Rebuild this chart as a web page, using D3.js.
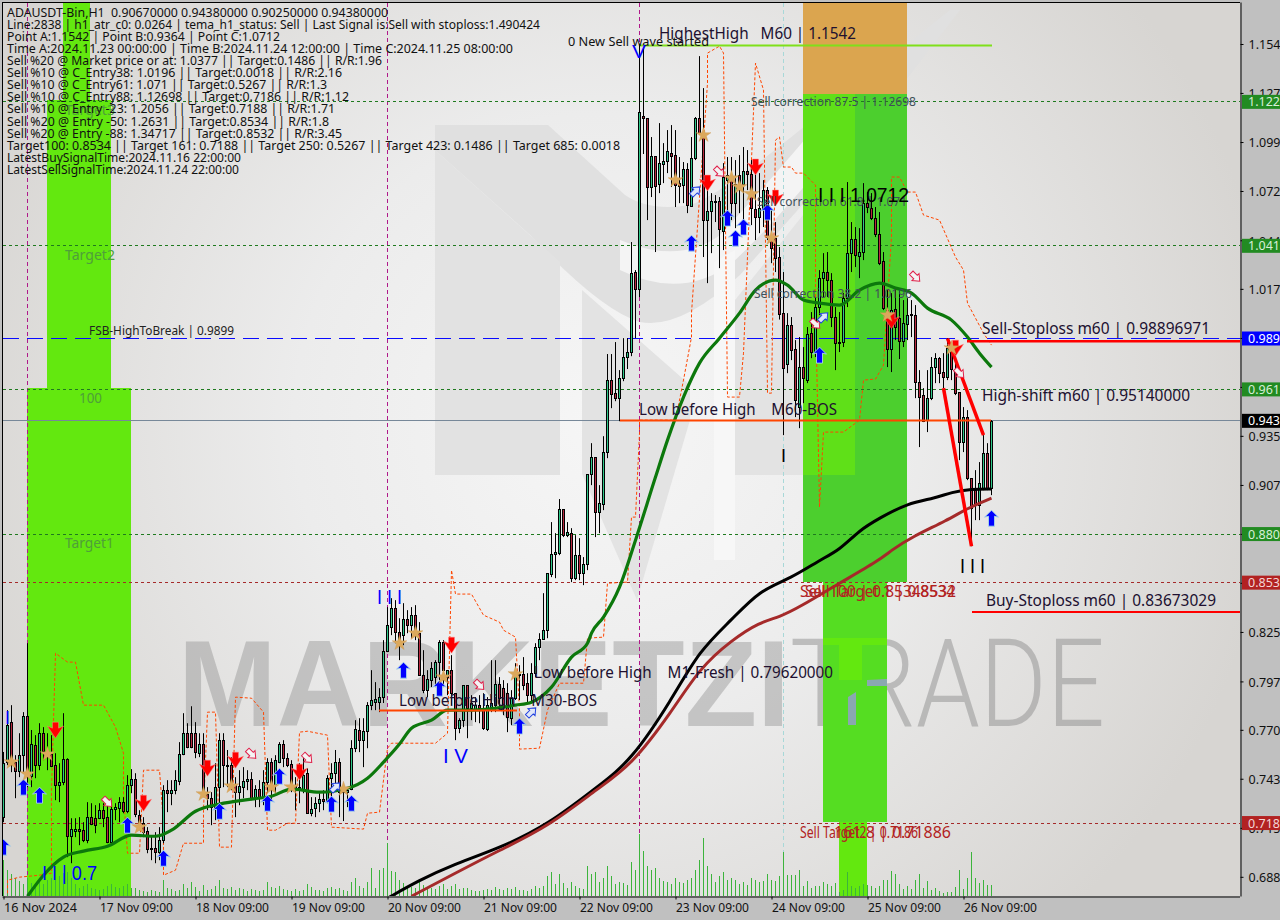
<!DOCTYPE html>
<html><head><meta charset="utf-8">
<style>html,body{margin:0;padding:0;background:#c0c0c0;overflow:hidden}svg{display:block}text{font-family:"Noto Sans","Open Sans",sans-serif;white-space:pre}</style>
<script src="https://cdn.jsdelivr.net/npm/d3@7"></script></head><body><svg id="c" width="1280" height="920"></svg>
<script>
const opens=[.7220,.7527,.7751,.7527,.7476,.7566,.7785,.7448,.7622,.7510,
.7689,.7588,.7572,.7510,.7398,.7415,.7544,.7112,.7140,.7152,
.7146,.7090,.7219,.7213,.7213,.7258,.7219,.7079,.7264,.7270,
.7303,.7252,.7398,.7432,.7230,.7185,.7140,.7045,.7045,.7023,
.7090,.7370,.7353,.7370,.7420,.7572,.7689,.7689,.7689,.7577,
.7628,.7348,.7325,.7275,.7387,.7651,.7510,.7510,.7398,.7359,
.7387,.7420,.7432,.7325,.7376,.7325,.7415,.7527,.7398,.7527,
.7628,.7549,.7516,.7392,.7387,.7370,.7465,.7241,.7270,.7297,
.7320,.7314,.7437,.7465,.7527,.7370,.7359,.7376,.7605,.7707,
.7650,.7701,.7846,.7863,.7863,.7891,.8148,.8283,.8389,.8255,
.8238,.8328,.8294,.8350,.8249,.8014,.7930,.7986,.8003,.8087,
.8199,.8003,.8042,.7913,.7717,.7762,.7958,.7829,.7819,.7846,
.7818,.7712,.7835,.7846,.7964,.7941,.7913,.7773,.7885,.8014,
.8020,.7969,.7902,.8025,.8171,.8216,.8266,.8580,.8692,.8697,
.8944,.8798,.8809,.8557,.8686,.8585,.8636,.9140,.9235,.8927,
.8972,.9263,.9666,.9593,.9565,.9677,.9795,.9823,1.0271,1.0176,
1.1144,1.1133,1.0747,1.0920,1.0764,1.0876,1.0892,1.0937,1.0926,1.0769,
1.0758,1.0848,1.0640,1.0909,1.1133,1.1049,1.0562,1.0612,1.0663,1.0668,
1.0500,1.0786,1.0814,1.0657,1.0814,1.0764,1.0836,1.0820,1.0624,1.0579,
1.0629,1.0730,1.0473,1.0461,1.0355,1.0041,.9756,.9974,.9840,.9515,
.9739,.9666,.9929,.9823,1.0075,1.0237,1.0271,1.0226,1.0019,.9879,
.9879,1.0125,1.0377,1.0456,1.0360,1.0383,1.0657,1.0629,1.0573,1.0484,
1.0332,1.0058,.9840,1.0064,1.0013,.9884,.9980,1.0030,1.0030,.9655,
.9582,.9442,.9565,.9739,.9789,.9711,.9683,.9845,.9722,.9599,
.9319,.9459,.9117,.9050,.8966,.9061,.9257,.9061];
const highs=[.7584,.7818,.7846,.7566,.7689,.7807,.8193,.7707,.7678,.7745,
.7723,.7689,.7678,.7577,.7521,.7801,.7549,.7213,.7213,.7219,
.7191,.7303,.7297,.7286,.7297,.7297,.7286,.7314,.7297,.7331,
.7331,.7454,.7488,.7465,.7258,.7219,.7163,.7118,.7135,.7163,
.7398,.7426,.7426,.7482,.7639,.7801,.7745,.7840,.7751,.7689,
.7689,.7387,.7359,.7521,.7689,.7689,.7595,.7555,.7443,.7482,
.7499,.7482,.7471,.7398,.7426,.7482,.7549,.7549,.7566,.7639,
.7650,.7577,.7538,.7443,.7521,.7549,.7493,.7331,.7331,.7353,
.7370,.7454,.7521,.7595,.7549,.7409,.7387,.7650,.7762,.7773,
.7773,.7863,.8042,.7975,.7941,.8210,.8395,.8445,.8434,.8333,
.8417,.8378,.8395,.8406,.8311,.8154,.8042,.8087,.8098,.8210,
.8210,.8042,.8126,.7913,.7773,.7958,.7958,.7902,.7891,.7902,
.7913,.7891,.8098,.8098,.8003,.7986,.7969,.7930,.8081,.8070,
.8115,.8025,.8081,.8193,.8249,.8473,.8585,.8871,.8809,.9000,
.8944,.8871,.8837,.8798,.8781,.8675,.9140,.9313,.9235,.9078,
.9352,.9812,.9812,.9879,.9722,.9901,.9901,1.0439,1.0282,1.1548,
1.1520,1.1133,1.1027,1.0920,1.1105,1.0993,1.1066,1.1094,1.1066,1.0915,
1.0887,1.0881,1.1027,1.1139,1.1480,1.1301,1.0730,1.0713,1.0702,1.0691,
1.0881,1.0915,1.0915,1.0898,1.0926,1.0971,1.0954,1.0898,1.0881,1.0825,
1.0786,1.0747,1.0618,1.0551,1.0411,1.0271,1.0041,1.0019,.9890,.9907,
.9851,.9963,1.0047,1.0131,1.0282,1.0377,1.0383,1.0265,1.0075,1.0047,
1.0153,1.0775,1.0551,1.0523,1.0517,1.0769,1.0719,1.0713,1.0635,1.0607,
1.0383,1.0170,1.0153,1.0187,1.0170,1.0114,1.0125,1.0114,1.0086,.9722,
.9621,.9722,.9795,.9817,.9795,.9817,.9901,.9862,.9778,.9599,
.9515,.9498,.9117,.9162,.9207,.9358,.9313,.9442];
const lows=[.7191,.7510,.7471,.7325,.7443,.7465,.7387,.7387,.7437,.7482,
.7538,.7482,.7499,.7314,.7303,.7398,.6995,.6961,.7107,.7062,
.7079,.7073,.7174,.7129,.7208,.7163,.7073,.7073,.7202,.7191,
.7241,.7241,.7353,.7219,.7146,.7107,.7017,.6978,.6961,.6978,
.7073,.7247,.7286,.7347,.7398,.7566,.7605,.7605,.7549,.7555,
.7353,.7258,.7174,.7202,.7258,.7387,.7387,.7370,.7219,.7286,
.7325,.7370,.7314,.7275,.7275,.7286,.7353,.7314,.7353,.7521,
.7499,.7499,.7359,.7258,.7297,.7353,.7241,.7224,.7219,.7247,
.7258,.7297,.7303,.7370,.7219,.7197,.7275,.7370,.7583,.7583,
.7499,.7605,.7818,.7818,.7807,.7858,.8143,.8238,.8193,.8098,
.8182,.8249,.8221,.8210,.8014,.7913,.7891,.7947,.7947,.7986,
.7947,.7902,.7846,.7650,.7689,.7723,.7661,.7762,.7751,.7745,
.7707,.7701,.7807,.7807,.7835,.7790,.7695,.7734,.7875,.7875,
.7930,.7863,.7863,.8003,.8098,.8216,.8221,.8563,.8557,.8686,
.8787,.8787,.8535,.8546,.8546,.8518,.8602,.9078,.8787,.8809,
.8938,.9229,.9509,.9548,.9436,.9660,.9728,.9800,.9901,1.0131,
1.0932,1.0562,1.0691,1.0383,1.0713,1.0769,1.0825,1.0747,1.0635,1.0657,
1.0657,1.0601,1.0640,1.0898,1.1038,1.0355,1.0209,1.0377,1.0551,1.0293,
1.0394,1.0607,1.0562,1.0517,1.0601,1.0562,1.0730,1.0534,1.0450,1.0489,
1.0523,1.0450,1.0321,1.0271,1.0005,.9358,.9705,.9778,.9459,.9397,
.9537,.9649,.9789,.9795,1.0030,1.0131,1.0131,.9963,.9722,.9823,
.9851,1.0075,1.0271,1.0299,1.0237,1.0338,1.0601,1.0562,1.0467,1.0310,
1.0058,.9739,.9711,.9890,.9784,.9851,.9890,.9907,.9565,.9291,
.9431,.9375,.9554,.9649,.9649,.9621,.9666,.9666,.9582,.9218,
.9263,.9106,.8736,.8882,.8882,.9050,.9050,.9022];
const closes=[.7522,.7734,.7527,.7476,.7566,.7785,.7471,.7628,.7510,.7689,
.7588,.7566,.7505,.7398,.7415,.7544,.7112,.7152,.7152,.7140,
.7090,.7219,.7180,.7174,.7258,.7213,.7079,.7264,.7275,.7303,
.7252,.7398,.7432,.7236,.7174,.7135,.7039,.7039,.7023,.7090,
.7370,.7353,.7370,.7426,.7572,.7689,.7611,.7611,.7583,.7628,
.7359,.7325,.7275,.7387,.7651,.7510,.7505,.7409,.7359,.7392,
.7420,.7432,.7325,.7376,.7325,.7415,.7527,.7387,.7538,.7628,
.7549,.7510,.7392,.7381,.7381,.7454,.7241,.7264,.7297,.7320,
.7309,.7437,.7465,.7527,.7359,.7359,.7370,.7605,.7712,.7650,
.7701,.7846,.7875,.7880,.7891,.8148,.8294,.8389,.8255,.8199,
.8328,.8294,.8350,.8249,.8014,.7930,.7992,.8053,.8087,.8199,
.8042,.8042,.7913,.7717,.7762,.7958,.7829,.7857,.7846,.7829,
.7717,.7846,.7857,.7964,.7885,.7835,.7779,.7885,.8014,.8020,
.7958,.7902,.8025,.8171,.8216,.8266,.8585,.8692,.8703,.8944,
.8798,.8815,.8557,.8686,.8585,.8636,.9140,.9235,.8927,.8977,
.9263,.9666,.9588,.9565,.9677,.9795,.9823,1.0265,1.0176,1.1167,
1.1133,1.0747,1.0920,1.0752,1.0881,1.0892,1.0948,1.0920,1.0758,1.0752,
1.0848,1.0646,1.0909,1.1133,1.1049,1.0562,1.0612,1.0668,1.0668,1.0512,
1.0803,1.0814,1.0657,1.0764,1.0758,1.0836,1.0820,1.0629,1.0579,1.0629,
1.0730,1.0467,1.0405,1.0349,1.0036,.9733,.9974,.9834,.9554,.9739,
.9677,.9924,.9823,1.0075,1.0237,1.0271,1.0226,1.0019,.9873,.9873,
1.0125,1.0377,1.0456,1.0366,1.0383,1.0657,1.0635,1.0573,1.0484,1.0321,
1.0069,.9840,1.0058,.9963,.9884,.9985,1.0030,1.0036,.9655,.9571,
.9436,.9565,.9739,.9789,.9705,.9683,.9845,.9728,.9593,.9319,
.9459,.9117,.8949,.8966,.9089,.9257,.9061,.9438];
const volumes=[36,26,22,18,15,12,18,13,10,14,12,16,18,16,20,23,24,18,12,8,
10,12,8,7,6,7,10,12,9,8,10,12,8,8,6,5,4,6,5,4,
16,8,7,5,6,12,8,14,9,5,11,6,7,10,16,8,7,9,6,8,
7,5,7,6,5,6,14,9,8,10,7,6,5,7,5,6,12,9,6,6,
5,8,9,7,8,6,5,14,18,10,8,14,28,8,26,28,53,25,24,16,
13,10,9,8,14,11,9,8,7,10,12,7,10,12,7,8,8,6,5,5,
6,7,6,9,7,6,8,7,9,6,6,5,7,10,8,10,20,24,12,22,
13,8,14,10,8,7,30,22,24,14,18,30,20,12,14,13,11,34,26,62,
45,30,26,28,18,15,14,12,18,14,13,16,18,26,36,58,30,22,14,20,
24,16,18,16,12,14,11,18,16,14,15,22,16,15,20,44,21,21,21,26,
10,15,8,10,10,14,12,10,13,4,6,24,10,8,10,12,11,10,8,10,
16,16,25,22,12,7,10,7,16,22,8,15,6,8,5,3,4,4,9,26,
7,18,44,18,13,16,11,11];
const greenMA=[[6,.6776],[10,.6894],[15,.6995],[20,.7029],[26,.7056],[32,.7118],[38,.7112],[42,.7146],[48,.7252],[54,.7292],[62,.7320],[67,.7336],[72,.7376],[79,.7359],[86,.7381],[91,.7437],[95,.7527],[99,.7628],[102,.7717],[107,.7762],[111,.7818],[117,.7818],[128,.7846],[132,.7863],[137,.7947],[142,.8115],[146,.8193],[147,.8249],[150,.8339],[154,.8507],[158,.8770],[163,.9123],[166,.9330],[170,.9571],[174,.9761],[179,.9901],[184,1.0041],[188,1.0170],[193,1.0226],[196,1.0198],[200,1.0114],[204,1.0097],[209,1.0086],[214,1.0170],[219,1.0209],[223,1.0181],[227,1.0153],[231,1.0069],[237,1.0002],[241,.9907],[244,.9817],[247,.9739]];
const blackMA=[[96,.6765],[104,.6866],[112,.6950],[124,.7045],[136,.7174],[149,.7398],[157,.7538],[167,.7875],[174,.8154],[182,.8322],[189,.8490],[197,.8557],[204,.8658],[209,.8714],[214,.8826],[219,.8893],[226,.8977],[233,.9005],[237,.9039],[242,.9056],[247,.9056]];
const brownMA=[[102,.6776],[112,.6894],[124,.7034],[136,.7163],[149,.7387],[157,.7510],[167,.7807],[174,.8053],[182,.8210],[189,.8311],[194,.8339],[199,.8395],[209,.8529],[219,.8658],[222,.8714],[227,.8787],[236,.8882],[241,.8949],[247,.9005]];
const channel=[[1,.6793],[1,.6866],[4,.6883],[9,.6894],[12,.6905],[12,.6978],[12,.7370],[13,.8137],[16,.8087],[18,.8087],[20,.7846],[25,.7846],[28,.7723],[30,.7577],[30,.7353],[31,.7017],[34,.7017],[35,.7482],[39,.7482],[40,.7185],[40,.6894],[43,.6922],[45,.7073],[50,.7073],[50,.7258],[51,.7807],[53,.7807],[54,.7051],[57,.7051],[58,.7891],[62,.7885],[65,.7807],[66,.7146],[68,.7146],[71,.7185],[73,.7185],[74,.7695],[76,.7700],[81,.7678],[82,.7163],[90,.7152],[91,.7241],[94,.7247],[96,.7605],[97,.7633],[108,.7633],[111,.7689],[112,.8602],[113,.8468],[117,.8468],[120,.8350],[124,.8311],[125,.8266],[128,.8227],[129,.7818],[129,.7600],[134,.7605],[136,.7818],[139,.7969],[145,.7969],[146,.8221],[150,.8227],[151,.8529],[156,.8535],[157,.8899],[158,.8899],[159,.9369],[159,.9442],[168,.9442],[170,.9666],[172,.9907],[172,1.0041],[176,1.1329],[176,1.1497],[179,1.1536],[180,1.1497],[181,.9571],[184,.9571],[185,.9817],[188,1.1441],[190,1.1290],[191,.9593],[192,.9593],[193,1.1010],[194,1.1027],[195,1.0859],[197,1.0859],[198,1.0825],[200,1.0825],[203,1.0758],[203,1.0114],[204,.8955],[205,.9375],[210,.9375],[214,.9442],[215,.9666],[218,.9672],[220,.9750],[222,1.0467],[222,1.0803],[224,1.0803],[226,1.0719],[228,1.0719],[230,1.0590],[234,1.0562],[238,1.0355],[240,1.0282],[241,1.0097],[245,.9929],[247,.9862]];
const buySignals=[[0,.7051],[5,.7387],[9,.7342],[31,.7174],[40,.6989],[54,.7252],[66,.7297],[69,.7448],[82,.7292],[87,.7297],[100,.8042],[109,.7941],[129,.7729],[172,1.0433],[181,1.0573],[183,1.0461],[185,1.0523],[191,1.0607],[204,.9806],[247,.8893]];
const sellSignals=[[13,.7706],[35,.7297],[51,.7493],[58,.7538],[74,.7471],[112,.8182],[176,1.0769],[188,1.0859],[193,1.0685],[222,.9999],[238,.9845]];
const stars=[[2,.7527],[6,.7460],[11,.7572],[34,.7163],[50,.7348],[57,.7392],[67,.7387],[72,.7387],[85,.7376],[99,.8193],[103,.8249],[110,.8003],[128,.8020],[168,1.0786],[175,1.1038],[182,1.0797],[184,1.0747],[187,1.0708],[192,1.0461],[221,1.0030],[237,.9845]];
const hollowRed=[[26,.7303],[62,.7572],[76,.7549],[119,.7958],[179,1.0831],[203,.9980],[228,1.0243],[239,.9705]];
const hollowBlue=[[83,.7387],[132,.7807],[173,1.0724],[205,1.0019]];
const greenLevels=[1.1224,1.0418,.9614,.8804];
const redLevels=[.8532,.7186];
const tags=[[1.1224,"1.1224","#228b22","#d8efd8"],[1.0418,"1.0418","#228b22","#d8efd8"],[.9899,"0.9899","#0000ff","#fff"],[.9614,"0.9614","#228b22","#d8efd8"],[.9438,"0.9438","#000","#fff"],[.8804,"0.8804","#228b22","#d8efd8"],[.8532,"0.8532","#b22222","#f3d6d6"],[.7186,"0.7186","#b22222","#f3d6d6"]];
const yTicks=[1.1548,1.1274,1.0999,1.0725,1.0449,1.0177,.9902,.9628,.9354,.9079,.8805,.8531,.8256,.7979,.7708,.7434,.7159,.6885];
const xTickIdx=[0,24,48,72,96,120,144,168,192,216,240];
const xTickLabels=["16 Nov 2024","17 Nov 09:00","18 Nov 09:00","19 Nov 09:00","20 Nov 09:00","21 Nov 09:00","22 Nov 09:00","23 Nov 09:00","24 Nov 09:00","25 Nov 09:00","26 Nov 09:00"];
const infoLines=[["ADAUSDT-Bin,H1  0.90670000 0.94380000 0.90250000 0.94380000",388],["Line:2838 | h1_atr_c0: 0.0264 | tema_h1_status: Sell | Last Signal is:Sell with stoploss:1.490424",540],["Point A:1.1542 | Point B:0.9364 | Point C:1.0712",280],["Time A:2024.11.23 00:00:00 | Time B:2024.11.24 12:00:00 | Time C:2024.11.25 08:00:00",513],["Sell %20 @ Market price or at: 1.0377 || Target:0.1486 || R/R:1.96",382],["Sell %10 @ C_Entry38: 1.0196 || Target:0.0018 || R/R:2.16",342],["Sell %10 @ C_Entry61: 1.071 || Target:0.5267 || R/R:1.3",327],["Sell %10 @ C_Entry88: 1.12698 || Target:0.7186 || R/R:1.12",349],["Sell %10 @ Entry -23: 1.2056 || Target:0.7188 || R/R:1.71",335],["Sell %20 @ Entry -50: 1.2631 || Target:0.8534 || R/R:1.8",329],["Sell %20 @ Entry -88: 1.34717 || Target:0.8532 || R/R:3.45",342],["Target100: 0.8534 || Target 161: 0.7188 || Target 250: 0.5267 || Target 423: 0.1486 || Target 685: 0.0018",620],["LatestBuySignalTime:2024.11.16 22:00:00",241],["LatestSellSignalTime:2024.11.24 22:00:00",239]];

const svg=d3.select("#c");
const W=1240,H=896;
const x=d3.scaleLinear().domain([0,247]).range([3.5,991.5]);
const y=d3.scaleLinear().domain([.67775,1.17943]).range([H,0]);
const vol=d3.scaleLinear().domain([0,100]).range([H,H-100]);
const defs=svg.append("defs");
const rg=defs.append("radialGradient").attr("id","bg").attr("gradientUnits","userSpaceOnUse").attr("cx",600).attr("cy",420).attr("r",680);
rg.append("stop").attr("offset",0).attr("stop-color","#f6f6f6");
rg.append("stop").attr("offset",.45).attr("stop-color","#ececec");
rg.append("stop").attr("offset",1).attr("stop-color","#d7d5d2");
defs.append("clipPath").attr("id","clip").append("rect").attr("x",3).attr("y",3).attr("width",W-3).attr("height",H-3);
svg.append("rect").attr("width",1280).attr("height",920).attr("fill","#c0c0c0");
svg.append("rect").attr("x",3).attr("y",3).attr("width",W-3).attr("height",H-3).attr("fill","url(#bg)");
const g=svg.append("g").attr("clip-path","url(#clip)");

// logo
const logo=g.append("g");
[["M435,125 L548,125 L625,195 Q650,212 690,205 Q720,195 800,130 L950,10 L960,10 L860,140 L740,275 Q680,330 640,322 Q600,310 530,235 L435,150 Z","#e0e0e0"],
["M435,150 L560,262 L560,475 L435,475 Z","#e2e2e2"],
["M582,290 L690,385 L690,420 L637,600 L582,474 Z","#e3e3e3"],
["M735,300 L855,150 L855,475 L735,475 Z","#e3e3e3"],
["M620,270 Q680,300 730,265 Q800,200 905,60 L905,20 Q790,160 720,235 Q680,265 620,240 Z","#f4f4f4"],
["M714,262 L735,250 L735,560 L714,560 Z","#f7f7f7"]].forEach(d=>logo.append("path").attr("d",d[0]).attr("fill",d[1]));

// watermark, under the zones and the marks
g.append("text").attr("x",178).attr("y",726).attr("font-size",122).attr("font-weight",700).attr("textLength",612).attr("lengthAdjust","spacingAndGlyphs").style("font-family","'Liberation Sans'").attr("fill","#8f8f8f").attr("opacity",.42).text("MARKETZI");
g.append("text").attr("x",790).attr("y",726).attr("font-size",122).attr("font-weight",300).attr("textLength",315).attr("lengthAdjust","spacingAndGlyphs").style("font-family","Roboto").attr("fill","#8f8f8f").attr("opacity",.5).text("TRADE");

// zones
const zones=[[63,90,3,100,"#63e80f"],[47,111,100,388,"#63e80f"],[27,131,388,896,"#63e80f"],[803,907,3,94,"#dba54f"],[803,907,94,582,"#4ccf2e"],[803,855,94,475,"#5fe018"],[823,887,582,822,"#55dd22"],[839,867,822,896,"#63e80f"],[823,887,638,645,"#63e80f"],[839,862,645,680,"#63e80f"]];
g.selectAll("rect.z").data(zones).join("rect").attr("class","z").attr("x",d=>d[0]).attr("y",d=>d[2]).attr("width",d=>d[1]-d[0]).attr("height",d=>d[3]-d[2]).attr("fill",d=>d[4]);
g.append("path").attr("d","M848,725 L848,697 L856,692 L856,725 Z M867,686 L867,680 L887,679 L887,686 Z").attr("fill","#8aa8b0");

// levels
const lineH=(v,x0,x1,col,w,dash)=>g.append("line").attr("x1",x0).attr("x2",x1).attr("y1",Math.floor(y(v))+.5).attr("y2",Math.floor(y(v))+.5).attr("stroke",col).attr("stroke-width",w).attr("stroke-dasharray",dash||null);
[27.5,387.5,639.5].forEach(v=>g.append("line").attr("x1",v).attr("x2",v).attr("y1",3).attr("y2",H).attr("stroke","#b0188a").attr("stroke-dasharray","4,3"));
g.append("line").attr("x1",783.5).attr("x2",783.5).attr("y1",3).attr("y2",H).attr("stroke","#a8d8d8").attr("stroke-dasharray","4,3");
greenLevels.forEach(v=>lineH(v,3,W,"#1f7a1f",1,"3,3"));
redLevels.forEach(v=>lineH(v,3,W,"#a52a2a",1,"3,3"));
lineH(.9899,3,W,"#0a0aff",1.2,"16,8");
lineH(.9438,3,W,"#778899",1);

// volumes
g.selectAll("line.v").data(volumes).join("line").attr("class","v").attr("x1",(d,i)=>x(i)).attr("x2",(d,i)=>x(i)).attr("y1",vol(0)).attr("y2",d=>vol(d)).attr("stroke","#3cb43c");

// channel and averages
const ln=d3.line().x(d=>x(d[0])).y(d=>y(d[1]));
g.append("path").attr("d",ln(channel)).attr("fill","none").attr("stroke","#ff4500").attr("stroke-dasharray","3,2");
// candles
g.selectAll("line.w").data(opens).join("line").attr("class","w").attr("x1",(d,i)=>x(i)).attr("x2",(d,i)=>x(i)).attr("y1",(d,i)=>y(highs[i])).attr("y2",(d,i)=>y(lows[i])).attr("stroke","#000");
g.selectAll("rect.b").data(opens).join("rect").attr("class","b").attr("shape-rendering","crispEdges")
 .attr("x",(d,i)=>x(i)-1).attr("width",2)
 .attr("y",(d,i)=>Math.round(y(Math.max(d,closes[i])))+.5)
 .attr("height",(d,i)=>Math.max(1,Math.round(Math.abs(y(d)-y(closes[i])))))
 .attr("fill",(d,i)=>closes[i]>=d?"#2fc98a":"#b8283f").attr("stroke","#000");
const curve=d3.line().x(d=>x(d[0])).y(d=>y(d[1])).curve(d3.curveMonotoneX);
const smooth=d3.line().x(d=>x(d[0])).y(d=>y(d[1])).curve(d3.curveBasis);
g.append("path").attr("d",curve(greenMA)).attr("fill","none").attr("stroke","#0c780c").attr("stroke-width",3.2);
g.append("path").attr("d",smooth(blackMA)).attr("fill","none").attr("stroke","#000").attr("stroke-width",3);
g.append("path").attr("d",smooth(brownMA)).attr("fill","none").attr("stroke","#a52a2a").attr("stroke-width",3);

// structure lines
lineH(.9438,620,991,"#ff4500",2);
lineH(.7818,379,517,"#ff4500",2);
lineH(1.1542,640,992,"#7fe01a",2);
g.append("line").attr("x1",967).attr("x2",W).attr("y1",y(.98897)+1).attr("y2",y(.98897)+1).attr("stroke","#f00").attr("stroke-width",2.5);
g.append("line").attr("x1",972).attr("x2",W).attr("y1",y(.83673)).attr("y2",y(.83673)).attr("stroke","#f00").attr("stroke-width",2);
const zig=[[[236,.9899],[245,.9358]],[[235,.9621],[242,.8736]]];
zig.forEach(s=>g.append("path").attr("d",ln(s)).attr("stroke","#f00").attr("stroke-width",3.5).attr("fill","none"));

// markers
const place=(data,path,fill,stroke,sw,rot)=>g.selectAll(null).data(data).join("path").attr("d",path).attr("transform",d=>`translate(${x(d[0])},${y(d[1])}) rotate(${rot||0})`).attr("fill",fill).attr("stroke",stroke).attr("stroke-width",sw);
place(buySignals,"M0,-8 L7,-1 L3,-2 L3,8 L-3,8 L-3,-2 L-7,-1 Z","#0000ff","#a8d8e8",.9);
place(sellSignals,"M-3,-8 L3,-8 L3,-2 L8,-4 L0,8 L-8,-4 L-3,-2 Z","#ff0000","#ff8080",.5);
place(stars,d3.symbol().type(d3.symbolStar).size(70)(),"#dba85c","#c89040",.3);
place(hollowRed,"M-2.5,-6 L2.5,-6 L2.5,0 L5,0 L0,6 L-5,0 L-2.5,0 Z","#f4f4f4","#e0204a",1,-45);
place(hollowBlue,"M-2.5,6 L2.5,6 L2.5,0 L5,0 L0,-6 L-5,0 L-2.5,0 Z","#dfe6f8","#2040e0",1,45);

// labels
const lab=(t,xx,yy,s,col,len,fam)=>{const e=svg.append("text").attr("x",xx).attr("y",yy).attr("font-size",s).attr("fill",col).text(t);if(len)e.attr("textLength",len).attr("lengthAdjust","spacingAndGlyphs");if(fam)e.style("font-family",fam);return e;};
const LS="'Liberation Sans'";
lab("Target3",65,115,14,"#4f9f3a",50);
lab("Target2",65,260,14,"#4f9f3a",50);
lab("Target1",65,548,14,"#4f9f3a",49);
lab("100",79,403,14,"#4f9f3a",23);
lab("FSB-HighToBreak | 0.9899",89,335,12,"#222",145);
lab("0 New Sell wave started",568,46,12,"#111",141);
lab("HighestHigh   M60 | 1.1542",659,39,16,"#201030",197);
lab("Sell correction 87.5 | 1.12698",751,106,12,"#40505a",165);
lab("Sell correction 61.8 | 1.071",757,206,12,"#40505a",150);
lab("Sell correction 38.2 | 1.0196",754,298,12,"#40505a",158);
lab("I I I 1.0712",818,202,20,"#000",91,LS);
lab("Sell-Stoploss m60 | 0.98896971",982,334,16,"#201030",228);
lab("High-shift m60 | 0.95140000",982,401,16,"#201030",208);
lab("Low before High    M60-BOS",639,415,16,"#201030",198);
lab("Low before High    M1-Fresh | 0.79620000",534,678,16,"#201030",299);
lab("Low before High    M30-BOS",399,706,16,"#201030",198);
lab("Buy-Stoploss m60 | 0.83673029",986,606,16,"#201030",230);
lab("Sell Target 1 | 0.8534",805,597,16,"#b22222",150);
lab("Sell 100 | 0.85348532",800,597,16,"#b22222",156);
lab("Sell Target2 | 0.7186",800,838,16,"#b22222",118);
lab("161.8 | 0.71886",834,838,16,"#b22222",117);
lab("I I I",377,604,20,"#0000ff",25,LS);
lab("I V",443,763,20,"#0000ff",25,LS);
lab("I I | 0.7",42,880,20,"#0000ff",55,LS);
lab("I",5,724,18,"#0000ff",null,LS);
lab("V",632,58,19,"#0000ff",14,LS);
lab("I",781,462,18,"#000",null,LS);
lab("I I I",960,573,20,"#000",25,LS);
svg.append("g").selectAll("text").data(infoLines).join("text").attr("x",7).attr("y",(d,i)=>16.5+12.12*i).attr("font-size",12).attr("fill","#111").attr("textLength",d=>d[1]-7).attr("lengthAdjust","spacingAndGlyphs").text(d=>d[0]);

// axes
svg.append("rect").attr("x",W).attr("y",0).attr("width",40).attr("height",920).attr("fill","#c0c0c0");
svg.append("rect").attr("x",0).attr("y",H).attr("width",1280).attr("height",24).attr("fill","#c0c0c0");
const ay=svg.append("g").attr("transform",`translate(${W+.5},0)`).call(d3.axisRight(y).tickValues(yTicks).tickSize(3).tickPadding(5).tickFormat(d3.format(".4f")));
ay.selectAll("text").attr("font-size",12.5).attr("fill","#111").attr("dy","0.38em").style("font-family","'Noto Sans'");
ay.selectAll("line").attr("stroke","#000");
ay.select(".domain").attr("stroke","#000").attr("d",`M0.5,2.5V${H+.5}`);
const ax=svg.append("g").attr("transform",`translate(0,${H+.5})`).call(d3.axisBottom(x).tickValues(xTickIdx).tickSize(3).tickPadding(4).tickFormat((d,i)=>xTickLabels[i]));
ax.selectAll("text").attr("font-size",12).attr("fill","#111").attr("text-anchor","start").attr("textLength",73).attr("lengthAdjust","spacingAndGlyphs").style("font-family","'Noto Sans'");
ax.selectAll("line").attr("stroke","#000");
ax.select(".domain").attr("stroke","#000").attr("d",`M2.5,0.5H${W}`);
svg.append("line").attr("x1",2.5).attr("x2",2.5).attr("y1",2).attr("y2",H).attr("stroke","#000");
svg.append("line").attr("x1",2).attr("x2",W).attr("y1",2.5).attr("y2",2.5).attr("stroke","#000");
svg.selectAll("g.tag").data(tags).join("g").attr("class","tag").each(function(d){const t=d3.select(this);
 t.append("rect").attr("x",1242).attr("y",y(d[0])-7).attr("width",38).attr("height",14).attr("fill",d[2]);
 t.append("text").attr("x",1248).attr("y",y(d[0])+4.5).attr("font-size",12.5).attr("fill",d[3]).text(d[1]);});
</script></body></html>
